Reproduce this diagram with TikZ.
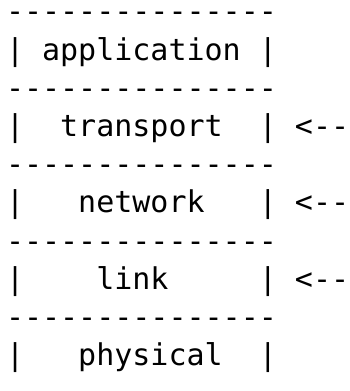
\documentclass[tikz,border=0pt]{standalone}
\usepackage{fontspec}
\newfontfamily\asciimono{DejaVu Sans Mono}
\begin{document}
\begin{tikzpicture}[x=1pt,y=1pt,
  row/.style={anchor=base west,inner sep=0pt,outer sep=0pt,font=\asciimono\fontsize{30}{30}\selectfont,text=black}]
\useasboundingbox (0,0) rectangle (350,-391);
\def\rowgap{38.2}
\node[row] (r0) at (6,-21.8) {---------------};
\node[row] (r1) at (6,{-21.8-\rowgap}) {|~application~|};
\node[row] (r2) at (6,{-21.8-2*\rowgap}) {---------------};
\node[row] (r3) at (6,{-21.8-3*\rowgap}) {|~~transport~~|~<--};
\node[row] (r4) at (6,{-21.8-4*\rowgap}) {---------------};
\node[row] (r5) at (6,{-21.8-5*\rowgap}) {|~~~network~~~|~<--};
\node[row] (r6) at (6,{-21.8-6*\rowgap}) {---------------};
\node[row] (r7) at (6,{-21.8-7*\rowgap}) {|~~~~link~~~~~|~<--};
\node[row] (r8) at (6,{-21.8-8*\rowgap}) {---------------};
\node[row] (r9) at (6,{-21.8-9*\rowgap}) {|~~~physical~~|};
\end{tikzpicture}
\end{document}
